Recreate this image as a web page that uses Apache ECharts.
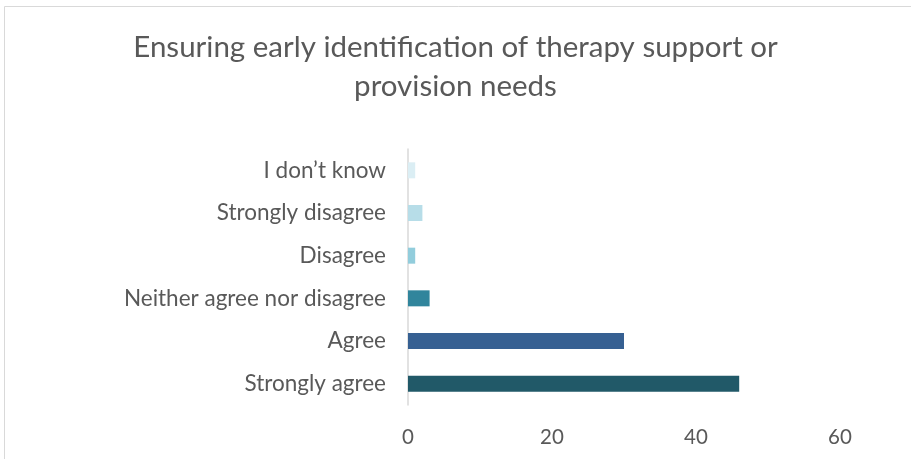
<!DOCTYPE html>
<html><head><meta charset="utf-8">
<script src="https://cdn.jsdelivr.net/npm/echarts@6/dist/echarts.min.js"></script>
<style>html,body{margin:0;padding:0;background:#fff}#c{width:911px;height:459px}</style>
</head><body><div id="c"></div>
<script>
const categories = ["Strongly agree", "Agree", "Neither agree nor disagree", "Disagree", "Strongly disagree", "I don\u2019t know"];
const values = [46, 30, 3, 1, 2, 1];
const barColors = ["#215968", "#366092", "#31859c", "#92cddc", "#b7dde8", "#dbeef4"];
const xTicks = [0, 20, 40, 60];

const chart = echarts.init(document.getElementById('c'));
const font = "Lato, 'Open Sans', sans-serif";
chart.setOption({
  animation: false,
  title: {
    text: "Ensuring early identification of therapy support or\nprovision needs",
    left: 'center', top: 23,
    textStyle: { fontFamily: font, fontSize: 29.5, fontWeight: 'normal', color: '#595959', lineHeight: 39 }
  },
  graphic: [{ type: 'rect', shape: { x: 4.5, y: 6.5, width: 920, height: 470 }, style: { fill: 'none', stroke: '#d9d9d9', lineWidth: 1 } }],
  grid: { left: 408, right: 71, top: 149, bottom: 54 },
  xAxis: {
    type: 'value', min: 0, max: 60, interval: 20,
    splitLine: { show: false }, axisLine: { show: false }, axisTick: { show: false },
    axisLabel: { fontFamily: font, fontSize: 20.5, color: '#595959', margin: 22 }
  },
  yAxis: {
    type: 'category', data: categories,
    axisLine: { show: true, lineStyle: { color: '#d9d9d9', width: 1.5 } },
    axisTick: { show: false },
    axisLabel: { fontFamily: font, fontSize: 22.5, color: '#595959', margin: 22 }
  },
  series: [{
    type: 'bar', data: values.map((v, i) => ({ value: v, itemStyle: { color: barColors[i] } })),
    barWidth: 16
  }]
});
</script></body></html>
